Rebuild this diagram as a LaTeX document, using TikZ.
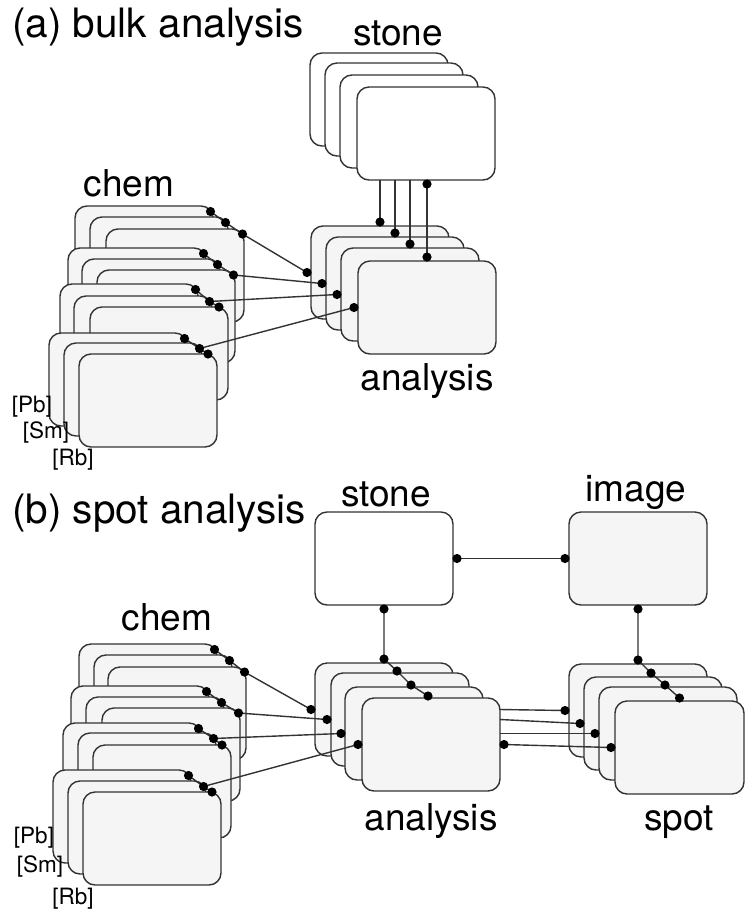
\documentclass[tikz,border=0pt]{standalone}
\usepackage{fontspec}
\setmainfont{TeX Gyre Heros}
\usetikzlibrary{calc}
\definecolor{bd}{HTML}{333333}
\definecolor{fl}{HTML}{F5F5F5}
\tikzset{
  box/.style={draw=bd, line width=1.4pt, rounded corners=12pt, minimum width=138pt,
    minimum height=93pt, inner sep=0pt, outer sep=0pt, anchor=north west, fill=fl},
  wbox/.style={box, fill=white},
  con/.style={draw=bd, line width=1.4pt},
  lbl/.style={font=\fontsize{37}{40}\selectfont, inner sep=0pt, anchor=base},
  ttl/.style={font=\fontsize{40.5}{44}\selectfont, inner sep=0pt, anchor=base west},
  el/.style={font=\fontsize{22.5}{24}\selectfont, inner sep=0pt},
}
\newcommand{\mydot}[1]{\fill[black] (#1) circle (4.6pt);}
\begin{document}
\begin{tikzpicture}[x=1pt,y=-1pt]
\useasboundingbox (0,0) rectangle (745,914);
% ================= (a) bulk analysis =================
\node[wbox] (sa1) at (310,53) {};
\node[wbox] (sa2) at (325,63) {};
\node[wbox] (sa3) at (340,75) {};
\node[wbox] (sa4) at (357,87) {};
\node[box] (aa1) at (311,226) {};
\node[box] (aa2) at (326,237) {};
\node[box] (aa3) at (341,248) {};
\node[box] (aa4) at (358,261) {};
% chem (a)
\node[box] (aA1) at (75,206) {};
\node[box] (aA2) at (90,217) {};
\node[box] (aA3) at (106,229) {};
\node[box] (aB1) at (68,248) {};
\node[box] (aB2) at (82,259) {};
\node[box] (aB3) at (97,270) {};
\node[box] (aC1) at (60,284) {};
\node[box] (aC2) at (74,296) {};
\node[box] (aC3) at (90,307) {};
\node[box] (aD1) at (49,333) {};
\node[box] (aD2) at (64,343) {};
\node[box] (aD3) at (79,354) {};
% stone -> analysis (a)
\foreach \i in {1,2,3,4}{
  \coordinate (tA\i) at ($(aa\i.north)+(0,-4)$);
  \draw[con] (aa\i.north |- sa4.south) -- (tA\i);
  \mydot{tA\i}
}
\coordinate (sA4) at ($(aa4.north |- sa4.south)+(0,4)$);
\mydot{sA4}
% chem -> analysis (a)
\foreach \g in {A,B,C,D}{
  \coordinate (pa\g1) at ($(a\g1.north east)+(-2.5,5.5)$);
  \coordinate (pa\g2) at ($(a\g2.north east)+(-2.5,5.5)$);
}
\coordinate (paA3) at ($(aA3.north east)+(-1.5,5)$);
\coordinate (paB3) at ($(aB3.north east)+(-1.5,5)$);
\coordinate (paC3) at ($(aC3.north east)+(-9,0)$);
\coordinate (paD3) at ($(aD3.north east)+(-9,0)$);
\foreach \i in {1,2,3,4}{\coordinate (wa\i) at ($(aa\i.west)+(-4,0)$);}
\foreach \g in {A,B,C,D}{\draw[con] (pa\g1) -- (pa\g2) -- (pa\g3);}
\draw[con] (paA3) -- (wa1);
\draw[con] (paB3) -- (wa2);
\draw[con] (paC2) -- (wa3);
\draw[con] (paD2) -- (wa4);
\foreach \g in {A,B,C,D}{\foreach \k in {1,2,3}{\mydot{pa\g\k}}}
\foreach \i in {1,2,3,4}{\mydot{wa\i}}
% labels (a)
\node[ttl] (ta) at (12,37) {(a) bulk analysis};
\node[lbl] (lsa) at (398,45) {stone};
\node[lbl] (lca) at (129,196) {chem};
\node[lbl] (laa) at (427,390) {analysis};
\node[el] (pba) at (32,407) {[Pb]};
\node[el] (sma) at (46,432) {[Sm]};
\node[el] (rba) at (73,460) {[Rb]};
% ================= (b) spot analysis =================
\node[wbox] (sb) at (315,512) {};
\node[box] (im) at (569,512) {};
\node[box] (ab1) at (315,663) {};
\node[box] (ab2) at (331,673) {};
\node[box] (ab3) at (345,687) {};
\node[box] (ab4) at (362,698) {};
\node[box] (sp1) at (569,664) {};
\node[box] (sp2) at (584,677) {};
\node[box] (sp3) at (599,687) {};
\node[box, minimum width=129pt] (sp4) at (615,701) {};
% chem (b)
\node[box] (bA1) at (79,644) {};
\node[box] (bA2) at (94,655) {};
\node[box] (bA3) at (108,667) {};
\node[box] (bB1) at (71,686) {};
\node[box] (bB2) at (86,697) {};
\node[box] (bB3) at (102,708) {};
\node[box] (bC1) at (63,723) {};
\node[box] (bC2) at (78,733) {};
\node[box] (bC3) at (93,745) {};
\node[box] (bD1) at (53,770) {};
\node[box] (bD2) at (68,781) {};
\node[box] (bD3) at (83,792) {};
% stone <-> image
\coordinate (se) at ($(sb.east)+(4,0)$);
\coordinate (iw) at ($(im.west)+(-4,0)$);
\draw[con] (se) -- (iw);
\mydot{se}\mydot{iw}
% stone -> analysis (b)
\coordinate (ss) at ($(sb.south)+(0,4)$);
\coordinate (tb1) at ($(ab1.north)+(0,-4)$);
\coordinate (tb2) at ($(ab2.north)+(-3,-2)$);
\coordinate (tb3) at ($(ab3.north)+(-3,-2)$);
\coordinate (tb4) at ($(ab4.north)+(-3,-2)$);
\draw[con] (ss) -- (tb1) -- (tb2) -- (tb3) -- (tb4);
\foreach \p in {ss,tb1,tb2,tb3,tb4}{\mydot{\p}}
% image -> spot
\coordinate (is) at ($(im.south)+(0,4)$);
\coordinate (ts1) at ($(sp1.north)+(0,-4)$);
\coordinate (ts2) at ($(sp2.north)+(-2,-4)$);
\coordinate (ts3) at ($(sp3.north)+(-3,-2)$);
\coordinate (ts4) at ($(sp4.north)+(0,-3)$);
\draw[con] (is) -- (ts1) -- (ts2) -- (ts3) -- (ts4);
\foreach \p in {is,ts1,ts2,ts3,ts4}{\mydot{\p}}
% analysis -> spot
\foreach \i in {1,2,3}{
  \coordinate (ws\i) at ($(sp\i.west)+(-4,0)$);
  \draw[con] (ab4.east |- ab\i.east) -- (ws\i);
  \mydot{ws\i}
}
\coordinate (ws4) at ($(sp4.west)+(-4,0)$);
\coordinate (eb4) at ($(ab4.east)+(4,0)$);
\draw[con] (eb4) -- (ws4);
\mydot{ws4}\mydot{eb4}
% chem -> analysis (b)
\foreach \g in {A,B,C,D}{
  \coordinate (pb\g1) at ($(b\g1.north east)+(-2.5,5.5)$);
  \coordinate (pb\g2) at ($(b\g2.north east)+(-2.5,5.5)$);
}
\coordinate (pbA3) at ($(bA3.north east)+(-1.5,5)$);
\coordinate (pbB3) at ($(bB3.north east)+(-1.5,5)$);
\coordinate (pbC3) at ($(bC3.north east)+(-9,0)$);
\coordinate (pbD3) at ($(bD3.north east)+(-9,0)$);
\foreach \i in {1,2,3,4}{\coordinate (wb\i) at ($(ab\i.west)+(-4,0)$);}
\foreach \g in {A,B,C,D}{\draw[con] (pb\g1) -- (pb\g2) -- (pb\g3);}
\draw[con] (pbA3) -- (wb1);
\draw[con] (pbB3) -- (wb2);
\draw[con] (pbC2) -- (wb3);
\draw[con] (pbD2) -- (wb4);
\foreach \g in {A,B,C,D}{\foreach \k in {1,2,3}{\mydot{pb\g\k}}}
\foreach \i in {1,2,3,4}{\mydot{wb\i}}
% labels (b)
\node[ttl] (tb) at (12,523) {(b) spot analysis};
\node[lbl] (lsb) at (386,506) {stone};
\node[lbl] (lib) at (636,501) {image};
\node[lbl] (lcb) at (167,630) {chem};
\node[lbl] (lab) at (431,830) {analysis};
\node[lbl] (lspb) at (679,830) {spot};
\node[el] (pbb) at (34,838) {[Pb]};
\node[el] (smb) at (40,866) {[Sm]};
\node[el] (rbb) at (73,899) {[Rb]};
\end{tikzpicture}
\end{document}
